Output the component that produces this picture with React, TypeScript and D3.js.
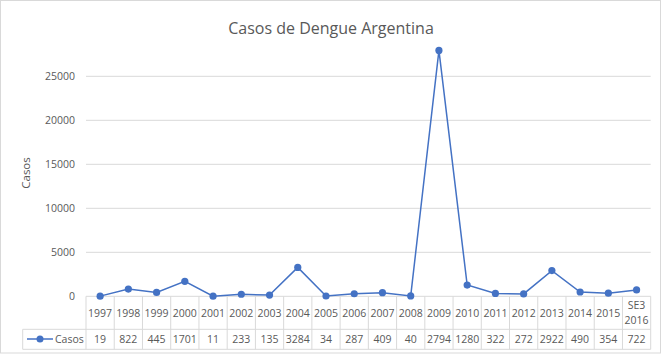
import React from "react";
import * as d3 from "d3";

const years = ["1997","1998","1999","2000","2001","2002","2003","2004","2005","2006","2007","2008","2009","2010","2011","2012","2013","2014","2015","SE3 2016"];
const casos = [19, 822, 445, 1701, 11, 233, 135, 3284, 34, 287, 409, 40, 27940, 1280, 322, 272, 2922, 490, 354, 722];
const tableLabels = ["19","822","445","1701","11","233","135","3284","34","287","409","40","2794","1280","322","272","2922","490","354","722"];
const yTicks = [0, 5000, 10000, 15000, 20000, 25000];
const seriesName = "Casos";
const title = "Casos de Dengue Argentina";

const W = 667, H = 359;
const FONT = "'Open Sans', sans-serif";
const TXT = "#595959";
const GRID = "#d9d9d9";
const BLUE = "#4472C4";

export default function App() {
  const x = d3.scaleBand<string>().domain(years).range([86, 650.7]).padding(0);
  const y = d3.scaleLinear().domain([0, 25000]).range([296.3, 76.3]);
  const line = d3.line<number>()
    .x((_, i) => (x(years[i]) as number) + x.bandwidth() / 2)
    .y((d) => y(d));
  const tTop = y(0), tMid = 329.3, tBot = 349.3, legL = 22.7;
  const left = x.range()[0], right = x.range()[1];
  return (
    <svg width={W} height={H} style={{ position: "absolute", left: 0, top: 0, background: "#fff" }} fontFamily={FONT}>
      <rect x={0.5} y={0.5} width={660} height={352.5} fill="#fff" stroke={GRID} strokeWidth={1} />
      <text x={331} y={34} textAnchor="middle" fontSize={16} fill={TXT}>{title}</text>
      <text transform={`translate(30,173) rotate(-90)`} textAnchor="middle" fontSize={11.5} fill={TXT}>Casos</text>
      {yTicks.map((t) => (
        <g key={t}>
          {t !== 0 && <line x1={left} x2={right} y1={y(t)} y2={y(t)} stroke={GRID} strokeWidth={1} />}
          <text x={75} y={y(t)} dy="0.35em" textAnchor="end" fontSize={10.5} fill={TXT}>{t}</text>
        </g>
      ))}
      {/* table */}
      <line x1={left} x2={right} y1={tTop} y2={tTop} stroke={GRID} />
      <line x1={legL} x2={right} y1={tMid} y2={tMid} stroke={GRID} />
      <line x1={legL} x2={right} y1={tBot} y2={tBot} stroke={GRID} />
      <line x1={legL} x2={legL} y1={tMid} y2={tBot} stroke={GRID} />
      {years.map((yr, i) => (
        <line key={"v" + i} x1={(x(yr) as number)} x2={(x(yr) as number)} y1={tTop} y2={tBot} stroke={GRID} />
      ))}
      <line x1={right} x2={right} y1={tTop} y2={tBot} stroke={GRID} />
      {years.map((yr, i) => {
        const cx = (x(yr) as number) + x.bandwidth() / 2;
        const parts = yr.split(" ");
        return (
          <g key={"c" + i}>
            {parts.length === 1 ? (
              <text x={cx} y={313} dy="0.35em" textAnchor="middle" fontSize={10.5} fill={TXT}>{yr}</text>
            ) : (
              parts.map((p, j) => (
                <text key={j} x={cx} y={305.5 + j * 15} dy="0.35em" textAnchor="middle" fontSize={10.5} fill={TXT}>{p}</text>
              ))
            )}
            <text x={cx} y={339} dy="0.35em" textAnchor="middle" fontSize={10.5} fill={TXT}>{tableLabels[i]}</text>
          </g>
        );
      })}
      <line x1={27} x2={53} y1={339} y2={339} stroke={BLUE} strokeWidth={1.5} />
      <circle cx={40} cy={339} r={3.5} fill={BLUE} />
      <text x={55} y={339} dy="0.35em" fontSize={10.5} fill={TXT}>{seriesName}</text>
      {/* series */}
      <path d={line(casos) as string} fill="none" stroke={BLUE} strokeWidth={1.5} />
      {casos.map((v, i) => (
        <circle key={"p" + i} cx={(x(years[i]) as number) + x.bandwidth() / 2} cy={y(v)} r={3.6} fill={BLUE} />
      ))}
    </svg>
  );
}
